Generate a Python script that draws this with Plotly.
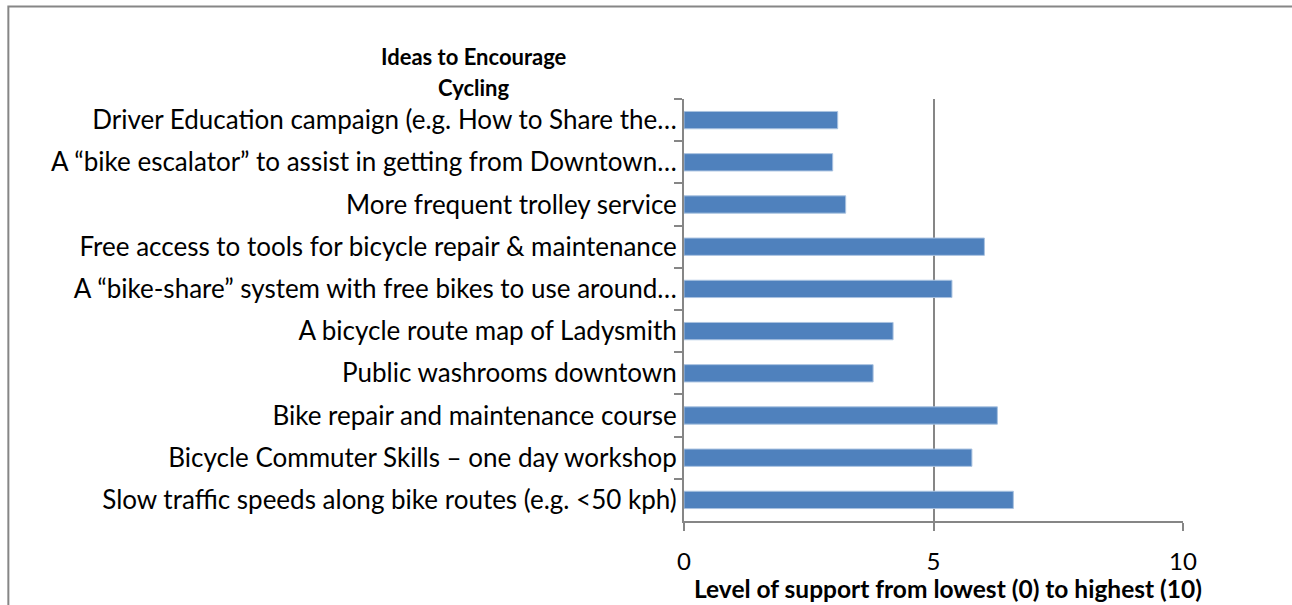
import plotly.graph_objects as go

# Survey results, listed top to bottom as they appear in the chart
ideas = [
    "Driver Education campaign (e.g. How to Share the…",
    "A “bike escalator” to assist in getting from Downtown…",
    "More frequent trolley service",
    "Free access to tools for bicycle repair & maintenance",
    "A “bike-share” system with free bikes to use around…",
    "A bicycle route map of Ladysmith",
    "Public washrooms downtown",
    "Bike repair and maintenance course",
    "Bicycle Commuter Skills – one day workshop",
    "Slow traffic speeds along bike routes (e.g. <50 kph)",
]
support = [3.08, 2.98, 3.24, 6.02, 5.37, 4.19, 3.79, 6.28, 5.77, 6.60]
x_ticks = [0, 5, 10]

FONT = "Lato"
GRAY = "#868686"

fig = go.Figure(go.Bar(
    x=support,
    y=ideas,
    orientation="h",
    width=0.41,
    marker=dict(color="#4F81BD", line=dict(color="#A9C2E0", width=1)),
))

fig.update_layout(
    width=1292,
    height=605,
    margin=dict(l=684, r=109, t=99, b=84),
    paper_bgcolor="white",
    plot_bgcolor="white",
    showlegend=False,
    font=dict(family=FONT, size=26, color="black"),
    xaxis=dict(
        range=[0, 10],
        tickvals=x_ticks,
        tickfont=dict(size=24),
        showgrid=True,
        gridcolor=GRAY,
        gridwidth=1.5,
        showline=True,
        linecolor=GRAY,
        linewidth=2,
        ticks="outside",
        ticklen=8,
        tickcolor=GRAY,
        tickwidth=2,
        ticklabelstandoff=10,
        zeroline=False,
        fixedrange=True,
    ),
    yaxis=dict(
        type="category",
        autorange="reversed",
        tickson="boundaries",
        ticks="outside",
        ticklen=8,
        tickcolor=GRAY,
        tickwidth=2,
        showline=True,
        linecolor=GRAY,
        linewidth=2,
        showgrid=False,
        ticklabelstandoff=0,
        fixedrange=True,
    ),
    annotations=[
        dict(
            text="<b>Ideas to Encourage</b>",
            x=-0.42, y=1.1, xref="paper", yref="paper",
            xanchor="center", yanchor="middle",
            showarrow=False, font=dict(family=FONT, size=22),
        ),
        dict(
            text="<b>Cycling</b>",
            x=-0.42, y=1.028, xref="paper", yref="paper",
            xanchor="center", yanchor="middle",
            showarrow=False, font=dict(family=FONT, size=22),
        ),
        dict(
            text="<b>Level of support from lowest (0) to highest (10)</b>",
            x=0.53, y=-0.161, xref="paper", yref="paper",
            xanchor="center", yanchor="middle",
            showarrow=False, font=dict(family=FONT, size=24.5),
        ),
    ],
    shapes=[
        dict(
            type="rect", xref="paper", yref="paper",
            x0=-1.354, x1=1.234, y0=-0.211, y1=1.219,
            line=dict(color=GRAY, width=2), layer="below",
        )
    ],
)

fig.write_html(
    "out.html",
    config={"displayModeBar": False},
    post_script="document.body.style.margin='0';",
)
